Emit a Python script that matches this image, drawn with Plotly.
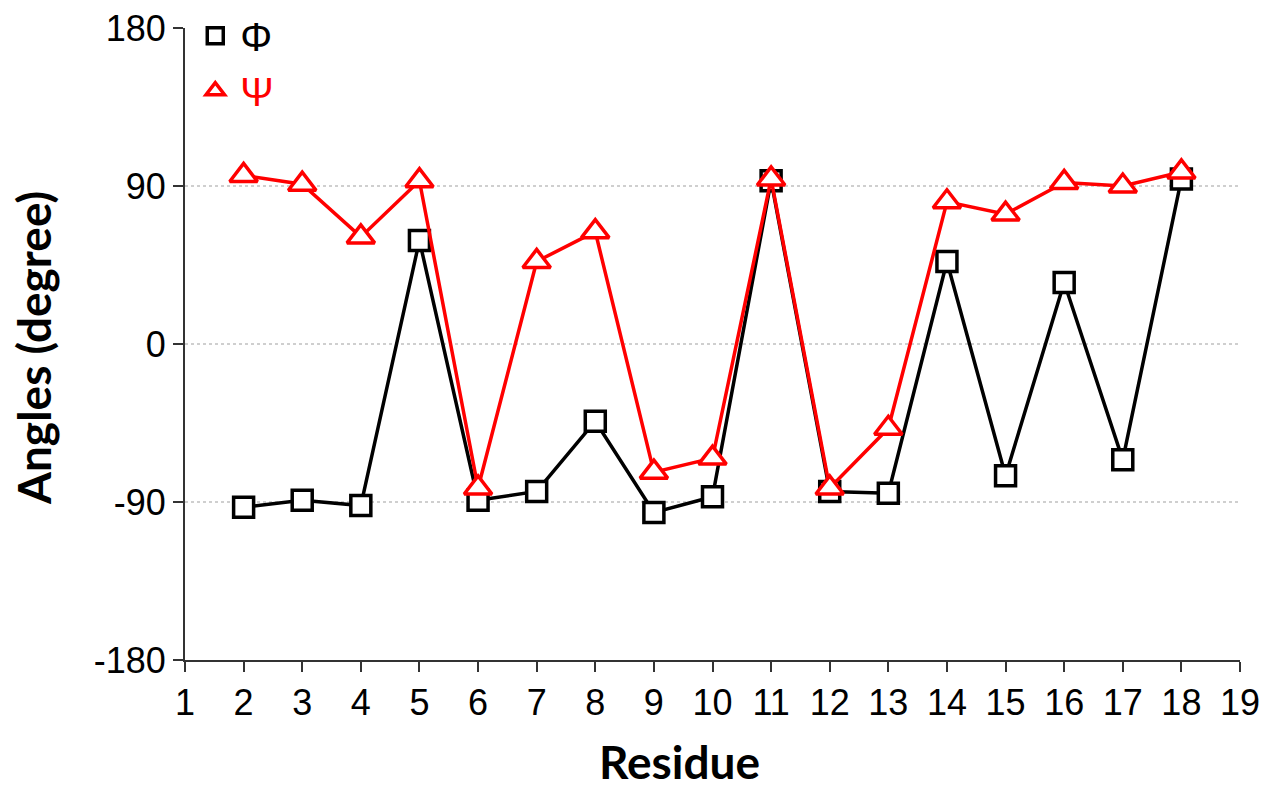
import plotly.graph_objects as go

residues = list(range(2, 19))
phi = [-93, -89, -92, 59, -89, -84, -44, -96, -87, 93, -84, -85, 47, -75, 35, -66, 94]
psi = [96, 91, 61, 93, -82, 47, 64, -73, -65, 94, -82, -48, 81, 74, 92, 90, 98]
y_ticks = [-180, -90, 0, 90, 180]
y_tick_labels = ["-180", "-90", "0", "90", "180"]
x_ticks = list(range(1, 20))

fig = go.Figure()
fig.add_trace(go.Scatter(
    x=residues, y=phi, mode="lines+markers", showlegend=False,
    line=dict(color="black", width=3.5),
    marker=dict(symbol="square", size=20, color="white", line=dict(color="black", width=3.5)),
))
fig.add_trace(go.Scatter(
    x=residues, y=psi, mode="lines+markers", showlegend=False,
    line=dict(color="#ff0000", width=3.5),
    marker=dict(symbol="triangle-up", size=24, color="white", line=dict(color="#ff0000", width=3.5)),
))
# legend-only entries (marker only)
fig.add_trace(go.Scatter(
    x=[None], y=[None], mode="markers", name="Φ",
    marker=dict(symbol="square", size=16, color="white", line=dict(color="black", width=3.5)),
))
fig.add_trace(go.Scatter(
    x=[None], y=[None], mode="markers", name="<span style='color:#ff0000'>Ψ</span>",
    marker=dict(symbol="triangle-up", size=16, color="white", line=dict(color="#ff0000", width=3.5)),
))

fig.update_layout(
    width=1274, height=793,
    margin=dict(l=185, r=34, t=28, b=133, autoexpand=False),
    plot_bgcolor="white", paper_bgcolor="white",
    font=dict(family="Liberation Sans, Arial, sans-serif", color="black"),
    legend=dict(x=0.005, y=0.996, xanchor="left", yanchor="top", yref="container",
                bgcolor="rgba(0,0,0,0)", font=dict(size=40, family="Liberation Sans"),
                itemwidth=40, tracegroupgap=0),
    xaxis=dict(
        range=[1, 19], tickvals=x_ticks, ticks="outside", ticklen=10, tickwidth=2,
        tickcolor="#333", showline=True, linecolor="#333", linewidth=2,
        showgrid=False, zeroline=False,
        tickfont=dict(size=36, family="Liberation Sans"),
    ),
    yaxis=dict(
        range=[-180, 180], tickvals=y_ticks, ticktext=y_tick_labels,
        ticks="outside", ticklen=10, tickwidth=2,
        tickcolor="#333", showline=True, linecolor="#333", linewidth=2,
        showgrid=True, gridcolor="#cfcfcf", griddash="dot", gridwidth=1.5,
        zeroline=False,
        tickfont=dict(size=36, family="Liberation Sans"),
    ),
    annotations=[
        dict(text="<b>Residue</b>", xref="paper", yref="paper",
             x=(679 - 185) / 1055, y=-(761 - 660) / 632, xanchor="center", yanchor="middle",
             showarrow=False, font=dict(size=46, family="Lato", color="black")),
        dict(text="<b>Angles (degree)</b>", xref="paper", yref="paper", textangle=-90,
             x=-(185 - 33) / 1055, y=(660 - 348) / 632, xanchor="center", yanchor="middle",
             showarrow=False, font=dict(size=46, family="Lato", color="black")),
    ],
)

fig.write_html("out.html")
